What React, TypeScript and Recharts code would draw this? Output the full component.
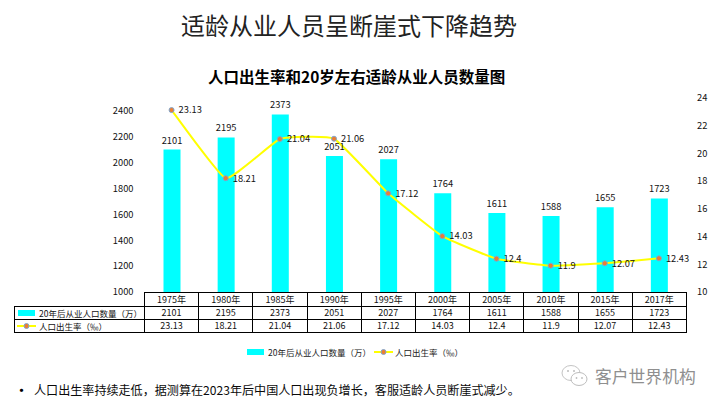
import React from "react";
import { ComposedChart, Bar, Line, XAxis, YAxis, LabelList, Legend } from "recharts";

const years = ["1975年", "1980年", "1985年", "1990年", "1995年", "2000年", "2005年", "2010年", "2015年", "2017年"];
const workers = [2101, 2195, 2373, 2051, 2027, 1764, 1611, 1588, 1655, 1723];
const birthRate = [23.13, 18.21, 21.04, 21.06, 17.12, 14.03, 12.4, 11.9, 12.07, 12.43];
const workersName = "20年后从业人口数量（万）";
const rateName = "人口出生率（‰）";
const leftTicks = [1000, 1200, 1400, 1600, 1800, 2000, 2200, 2400];
const rightTicks = [10, 12, 14, 16, 18, 20, 22, 24];
const data = years.map((y, i) => ({ year: y, workers: workers[i], rate: birthRate[i] }));

const FONT = '"Noto Sans CJK SC", "Noto Sans", sans-serif';
const CYAN = "#00FFFF";
const YELLOW = "#FFFF00";
const MARK = "#ED7D31";
const MARK_EDGE = "#7FA6CF";

// A lightly rounded line: only a small tangent at each point, so corners stay visible.
const softCurve = (context: any) => {
  let pts: [number, number][] = [];
  const k = 0.06;
  return {
    areaStart() {},
    areaEnd() {},
    lineStart() {
      pts = [];
    },
    point(x: number, y: number) {
      pts.push([+x, +y]);
    },
    lineEnd() {
      pts.forEach((p, i) => {
        if (i === 0) {
          context.moveTo(p[0], p[1]);
          return;
        }
        const p0 = pts[i - 1];
        const pm = pts[Math.max(i - 2, 0)];
        const pn = pts[Math.min(i + 1, pts.length - 1)];
        context.bezierCurveTo(
          p0[0] + k * (p[0] - pm[0]),
          p0[1] + k * (p[1] - pm[1]),
          p[0] - k * (pn[0] - p0[0]),
          p[1] - k * (pn[1] - p0[1]),
          p[0],
          p[1]
        );
      });
    },
  };
};

const BarSwatch = () => <span style={{ display: "inline-block", flex: "none", width: 17, height: 6, background: CYAN }} />;
const LineSwatch = () => (
  <svg width={19} height={8} style={{ display: "block", flex: "none" }}>
    <line x1={0} y1={4} x2={19} y2={4} stroke={YELLOW} strokeWidth={2} />
    <circle cx={9.5} cy={4} r={2.5} fill={MARK} stroke={MARK_EDGE} strokeWidth={1} />
  </svg>
);

const fullBrackets = { textSpacingTrim: "space-all" } as React.CSSProperties;

const cell: React.CSSProperties = {
  border: "1px solid #000",
  padding: 0,
  textAlign: "center",
  fontSize: 9,
  lineHeight: "12px",
  color: "#111",
  overflow: "hidden",
  whiteSpace: "nowrap",
};

const DataTable = () => (
  <table
    style={{
      position: "absolute",
      left: 14,
      top: 292,
      borderCollapse: "collapse",
      tableLayout: "fixed",
      width: 672,
      fontFamily: FONT,
    }}
  >
    <colgroup>
      <col style={{ width: 130 }} />
      {years.map((y) => (
        <col key={y} style={{ width: 54.2 }} />
      ))}
    </colgroup>
    <tbody>
      <tr style={{ height: 14 }}>
        <td style={{ ...cell, borderLeft: "none", borderTop: "none" }} />
        {years.map((y) => (
          <td key={y} style={cell}>{y}</td>
        ))}
      </tr>
      <tr style={{ height: 13 }}>
        <td style={{ ...cell, textAlign: "left" }}>
          <div style={{ display: "flex", alignItems: "center", paddingLeft: 3, gap: 4 }}>
            <BarSwatch />
            <span style={{ fontSize: 8.5, ...fullBrackets }}>{workersName}</span>
          </div>
        </td>
        {workers.map((v, i) => (
          <td key={i} style={cell}>{v}</td>
        ))}
      </tr>
      <tr style={{ height: 13 }}>
        <td style={{ ...cell, textAlign: "left" }}>
          <div style={{ display: "flex", alignItems: "center", paddingLeft: 2, gap: 3 }}>
            <LineSwatch />
            <span style={{ fontSize: 8.5, ...fullBrackets }}>{rateName}</span>
          </div>
        </td>
        {birthRate.map((v, i) => (
          <td key={i} style={cell}>{v}</td>
        ))}
      </tr>
    </tbody>
  </table>
);

const ChartLegend = () => (
  <div
    style={{
      display: "flex",
      alignItems: "center",
      fontFamily: FONT,
      fontSize: 8.5,
      color: "#222",
      whiteSpace: "nowrap",
      ...fullBrackets,
    }}
  >
    <BarSwatch />
    <span style={{ marginLeft: 4, marginRight: 3 }}>{workersName}</span>
    <LineSwatch />
    <span style={{ marginLeft: 2 }}>{rateName}</span>
  </div>
);

const WeChatMark = () => (
  <svg width={30} height={26} style={{ position: "absolute", left: 560, top: 363 }}>
    <ellipse cx={11} cy={10} rx={9} ry={7.5} fill="none" stroke="#c4c4c4" strokeWidth={1} />
    <ellipse cx={19} cy={16} rx={8} ry={6.5} fill="#fff" stroke="#bdbdbd" strokeWidth={1} />
    <circle cx={8} cy={8} r={1} fill="#bdbdbd" />
    <circle cx={14} cy={8} r={1} fill="#bdbdbd" />
    <circle cx={16.5} cy={15} r={0.9} fill="#bdbdbd" />
    <circle cx={22} cy={15} r={0.9} fill="#bdbdbd" />
  </svg>
);

const abs = (left: number, top: number, extra: React.CSSProperties): React.CSSProperties => ({
  position: "absolute",
  left,
  top,
  fontFamily: FONT,
  whiteSpace: "nowrap",
  ...extra,
});

export default function App() {
  return (
    <div style={{ position: "absolute", left: 0, top: 0, width: 719, height: 407, background: "#fff", overflow: "hidden" }}>
      <div style={abs(181, 9, { fontSize: 24, lineHeight: "32px", color: "#222" })}>适龄从业人员呈断崖式下降趋势</div>
      <div style={abs(208, 64, { fontSize: 15.5, lineHeight: "24px", fontWeight: 700, color: "#000" })}>人口出生率和20岁左右适龄从业人员数量图</div>
      <ComposedChart
        width={719}
        height={407}
        data={data}
        margin={{ top: 98, bottom: 101, left: 104.5, right: 0 }}
        style={{ position: "absolute", left: 0, top: 0, fontFamily: FONT }}
      >
        <XAxis dataKey="year" hide />
        <YAxis
          yAxisId="left"
          domain={[1000, 2500]}
          ticks={leftTicks}
          width={40}
          axisLine={false}
          tickLine={false}
          tickMargin={5}
          interval={0}
          tick={{ fontSize: 9.3, fill: "#111" }}
        />
        <YAxis
          yAxisId="right"
          orientation="right"
          domain={[10, 24]}
          ticks={rightTicks}
          width={33}
          axisLine={false}
          tickLine={false}
          tickMargin={5}
          interval={0}
          tick={{ fontSize: 9.3, fill: "#111" }}
        />
        <Bar yAxisId="left" dataKey="workers" name={workersName} fill={CYAN} barSize={17} isAnimationActive={false}>
          <LabelList dataKey="workers" position="top" offset={6} style={{ fontSize: 9.3, fill: "#111" }} />
        </Bar>
        <Line
          yAxisId="right"
          type={softCurve as any}
          dataKey="rate"
          name={rateName}
          stroke={YELLOW}
          strokeWidth={2}
          dot={{ r: 2.5, fill: MARK, stroke: MARK_EDGE, strokeWidth: 1 }}
          isAnimationActive={false}
        >
          <LabelList dataKey="rate" position="right" offset={7} style={{ fontSize: 9.3, fill: "#111" }} />
        </Line>
        <Legend
          content={<ChartLegend />}
          wrapperStyle={{ position: "absolute", left: 247, top: 346, width: 230, height: 14 }}
        />
      </ComposedChart>
      <DataTable />
      <div style={abs(15, 381, { fontSize: 13, lineHeight: "18px", fontWeight: 700, color: "#000" })}>•</div>
      <div style={abs(34, 381, { fontSize: 12.08, lineHeight: "18px", color: "#0a0a0a", ...fullBrackets })}>
        人口出生率持续走低，据测算在2023年后中国人口出现负增长，客服适龄人员断崖式减少。
      </div>
      <WeChatMark />
      <div style={abs(595, 366, { fontSize: 16.8, lineHeight: "20px", color: "#8f8f8f" })}>客户世界机构</div>
    </div>
  );
}
